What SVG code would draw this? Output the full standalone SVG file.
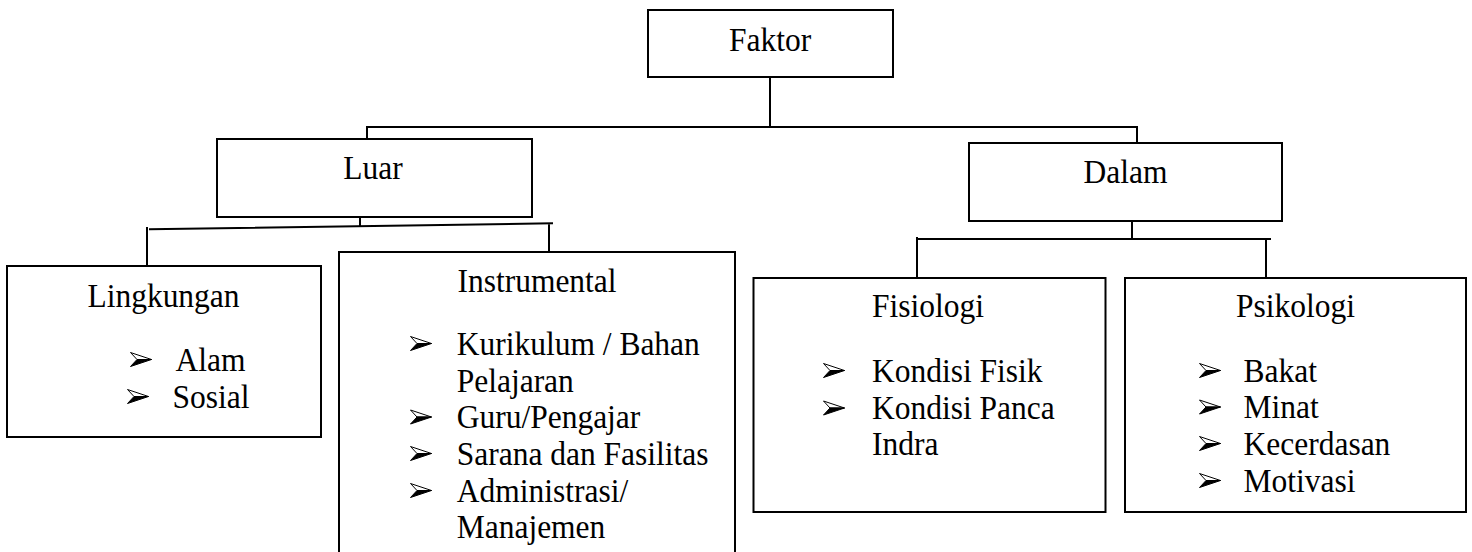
<svg xmlns="http://www.w3.org/2000/svg" width="1472" height="552" viewBox="0 0 1472 552">
<style>
.box{fill:#fff;stroke:#000;stroke-width:2}
.ln{fill:none;stroke:#000;stroke-width:2}
text{font-family:"Liberation Serif","Times New Roman",serif;font-size:31.5px;fill:#000}
.c{text-anchor:middle}
</style>
<defs>
<symbol id="bul" viewBox="0 0 22 15" overflow="visible">
<polygon points="0.5,0.5 21.5,7.5 7,7.5" fill="#fff" stroke="#000" stroke-width="1" stroke-linejoin="round"/>
<polygon points="7,7.5 21.5,7.5 0.5,14.5" fill="#000" stroke="#000" stroke-width="1" stroke-linejoin="round"/>
</symbol>
</defs>
<rect width="1472" height="552" fill="#fff"/>
<g id="connectors">
<path class="ln" d="M770,77 V127 M366,127 H1138 M367,126 V139 M1137,126 V143"/>
<path class="ln" d="M360,217 V226.5 M149,229.3 L553,223.3 M147,227 V266 M549,223 V252"/>
<path class="ln" d="M1132,221 V239 M916,239 H1271 M917,237 V278 M1266,239 V278"/>
</g>
<g id="faktor">
<rect class="box" x="648" y="10" width="245" height="67"/>
<text class="c" transform="matrix(1 0 0 1.07 770 50.5)">Faktor</text>
</g>
<g id="luar">
<rect class="box" x="217" y="139" width="315" height="78"/>
<text class="c" transform="matrix(1 0 0 1.07 373 179.3)">Luar</text>
</g>
<g id="dalam">
<rect class="box" x="969" y="143" width="313" height="78"/>
<text class="c" transform="matrix(1 0 0 1.07 1125.5 182.7)">Dalam</text>
</g>
<g id="lingkungan">
<rect class="box" x="7" y="266" width="314" height="171"/>
<text class="c" transform="matrix(1 0 0 1.07 163.5 306.5)">Lingkungan</text>
<use href="#bul" x="130" y="352" width="22" height="15"/>
<text transform="matrix(1 0 0 1.07 175.5 370.7)">Alam</text>
<use href="#bul" x="127" y="389" width="22" height="15"/>
<text transform="matrix(1 0 0 1.07 172.5 407.7)">Sosial</text>
</g>
<g id="instrumental">
<rect class="box" x="339" y="252" width="396" height="320"/>
<text class="c" transform="matrix(1 0 0 1.07 537 291.7)">Instrumental</text>
<use href="#bul" x="410" y="336" width="22" height="15"/>
<text transform="matrix(1 0 0 1.07 456.7 355)">Kurikulum / Bahan</text>
<text transform="matrix(1 0 0 1.07 456.7 391.7)">Pelajaran</text>
<use href="#bul" x="410" y="409.5" width="22" height="15"/>
<text transform="matrix(1 0 0 1.07 456.7 428.3)">Guru/Pengajar</text>
<use href="#bul" x="410" y="446" width="22" height="15"/>
<text transform="matrix(1 0 0 1.07 456.7 465)">Sarana dan Fasilitas</text>
<use href="#bul" x="410" y="483" width="22" height="15"/>
<text transform="matrix(1 0 0 1.07 456.7 501.7)">Administrasi/</text>
<text transform="matrix(1 0 0 1.07 456.7 538.3)">Manajemen</text>
</g>
<g id="fisiologi">
<rect class="box" x="753.5" y="278" width="352" height="234"/>
<text class="c" transform="matrix(1 0 0 1.07 928 317.3)">Fisiologi</text>
<use href="#bul" x="823" y="363" width="22" height="15"/>
<text transform="matrix(1 0 0 1.07 872 381.7)">Kondisi Fisik</text>
<use href="#bul" x="823" y="400.5" width="22" height="15"/>
<text transform="matrix(1 0 0 1.07 872 419.3)">Kondisi Panca</text>
<text transform="matrix(1 0 0 1.07 872 455)">Indra</text>
</g>
<g id="psikologi">
<rect class="box" x="1125" y="278" width="341" height="234"/>
<text class="c" transform="matrix(1 0 0 1.07 1295.5 317.3)">Psikologi</text>
<use href="#bul" x="1199" y="363" width="22" height="15"/>
<text transform="matrix(1 0 0 1.07 1243.5 381.7)">Bakat</text>
<use href="#bul" x="1199" y="399.5" width="22" height="15"/>
<text transform="matrix(1 0 0 1.07 1243.5 418.3)">Minat</text>
<use href="#bul" x="1199" y="436" width="22" height="15"/>
<text transform="matrix(1 0 0 1.07 1243.5 455)">Kecerdasan</text>
<use href="#bul" x="1199" y="473" width="22" height="15"/>
<text transform="matrix(1 0 0 1.07 1243.5 491.7)">Motivasi</text>
</g>
</svg>
